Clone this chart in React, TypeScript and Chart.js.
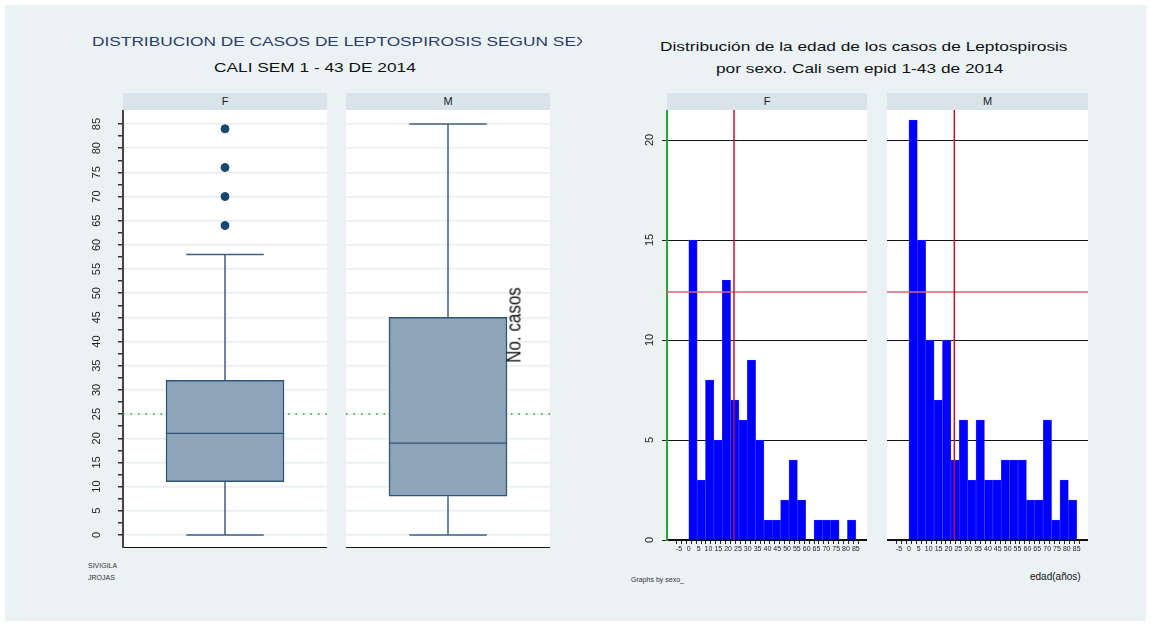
import React, { useEffect, useRef } from "react";
import { Chart, registerables } from "chart.js";
Chart.register(...registerables);

const FONT = "'Liberation Sans', Arial, sans-serif";

// Box plot data (edad by sexo)
const boxF = { min: 0, q1: 11, median: 21, q3: 32, max: 58 };
const boxM = { min: 0, q1: 8, median: 19, q3: 45, max: 85 };
const outliersF = [64, 70, 76, 84];
const outliersM: number[] = [];
const refLineBox = 25;

// Histogram data: 20 bins of width 4.25 from 0 to 85
const binWidth = 4.25;
const binStarts = [0, 4.25, 8.5, 12.75, 17, 21.25, 25.5, 29.75, 34, 38.25, 42.5, 46.75, 51, 55.25, 59.5, 63.75, 68, 72.25, 76.5, 80.75];
const histF = [15, 3, 8, 5, 13, 7, 6, 9, 5, 1, 1, 2, 4, 2, 0, 1, 1, 1, 0, 1];
const histM = [21, 15, 10, 7, 10, 4, 6, 3, 6, 3, 3, 4, 4, 4, 2, 2, 6, 1, 3, 2];
const meanAge = 23;
const meanCount = 12.4;
const histYTicks = [0, 5, 10, 15, 20];

const rotLabels = {
  id: "rotLabels",
  afterDraw(chart: any, _a: any, opts: any) {
    if (!opts || !opts.show) return;
    const s = chart.scales.y;
    const ctx = chart.ctx;
    ctx.save();
    ctx.fillStyle = "#222";
    ctx.font = `${opts.size}px ${FONT}`;
    ctx.textAlign = "center";
    ctx.textBaseline = "middle";
    for (const v of opts.values) {
      const py = s.getPixelForValue(v);
      ctx.save();
      ctx.translate(s.right - opts.offset, py);
      ctx.rotate(-Math.PI / 2);
      ctx.fillText(String(v), 0, 0);
      ctx.restore();
    }
    ctx.restore();
  },
};

function useChart(make: () => any) {
  const ref = useRef<HTMLCanvasElement>(null);
  useEffect(() => {
    const c = new Chart(ref.current!, make());
    return () => c.destroy();
  }, []);
  return ref;
}

const boxTicks = Array.from({ length: 18 }, (_, i) => i * 5);

function BoxPanel({ box, outliers, left, width, axis }: any) {
  const ref = useChart(() => {
    const seg = (pts: any[], color = "#3d5f80", w = 1.5) => ({
      type: "line", data: pts, borderColor: color, borderWidth: w, pointRadius: 0, showLine: true, fill: false, order: 0,
    });
    return {
      type: "bar",
      data: {
        datasets: [
          { type: "bar", data: [{ x: 0.5, y: [box.q1, box.q3] }], backgroundColor: "#8ea5b9", borderColor: "#2d5478", borderWidth: 1.5, borderSkipped: false, barThickness: 118, order: 2 },
          seg([{ x: 0.5, y: box.min }, { x: 0.5, y: box.q1 }]),
          seg([{ x: 0.5, y: box.q3 }, { x: 0.5, y: box.max }]),
          seg([{ x: 0.31, y: box.min }, { x: 0.69, y: box.min }]),
          seg([{ x: 0.31, y: box.max }, { x: 0.69, y: box.max }]),
          seg([{ x: 0.21, y: box.median }, { x: 0.79, y: box.median }], "#2d5478", 1.2),
          { type: "scatter", data: outliers.map((v: number) => ({ x: 0.5, y: v })), backgroundColor: "#1a476f", borderColor: "#1a476f", pointRadius: 4, order: 0 },
          { type: "line", data: [{ x: 0, y: refLineBox }, { x: 1, y: refLineBox }], borderColor: "#1faa1f", borderWidth: 1.5, borderDash: [1.5, 6], pointRadius: 0, order: 3 },
        ],
      },
      options: {
        animation: false, responsive: true, maintainAspectRatio: false,
        layout: { padding: 0, autoPadding: false },
        plugins: { legend: { display: false }, tooltip: { enabled: false }, rotLabels: { show: axis, values: boxTicks, offset: 26, size: 11 } },
        scales: {
          x: { type: "linear", offset: false, min: 0, max: 1, ticks: { display: false }, grid: { display: false }, border: { color: "#111", width: 2 }, afterFit: (s: any) => { s.height = 0; } },
          y: {
            min: -2.7, max: 87.9,
            afterBuildTicks: (s: any) => { s.ticks = Array.from({ length: 35 }, (_, i) => ({ value: i * 2.5 })); },
            ticks: { display: false },
            grid: { color: (c: any) => (c.tick && c.tick.value % 5 === 0 ? "#e6eef1" : "transparent"), lineWidth: 1.5, drawTicks: axis, tickLength: 5, tickColor: "#333" },
            border: { display: axis, color: "#444", width: 2 },
            afterFit: (s: any) => { s.width = axis ? 63 : 0; },
          },
        },
      },
      plugins: [rotLabels],
    };
  });
  return (
    <div style={{ position: "absolute", left, top: 110, width, height: 438 }}>
      <canvas ref={ref} />
    </div>
  );
}

function HistPanel({ values, left, width, axis }: any) {
  const ref = useChart(() => ({
    type: "bar",
    data: {
      datasets: [
        { type: "bar", data: values.map((v: number, i: number) => ({ x: binStarts[i] + binWidth / 2, y: v })), backgroundColor: "#0000ff", borderColor: "#4444ff", borderWidth: 0.6, barThickness: 8.4, order: 2 },
        { type: "line", data: [{ x: meanAge, y: 0 }, { x: meanAge, y: 21.5 }], borderColor: "#c8102e", borderWidth: 1.5, pointRadius: 0, order: 1 },
        { type: "line", data: [{ x: -11.1, y: meanCount }, { x: 90.7, y: meanCount }], borderColor: "#d9637a", borderWidth: 1.5, pointRadius: 0, order: 1 },
      ],
    },
    options: {
      animation: false, responsive: true, maintainAspectRatio: false,
      layout: { padding: 0, autoPadding: false },
      plugins: { legend: { display: false }, tooltip: { enabled: false }, rotLabels: { show: axis, values: histYTicks, offset: 17, size: 11 } },
      scales: {
        x: {
          type: "linear", offset: false, min: -11.1, max: 90.7,
          afterBuildTicks: (s: any) => { s.ticks = Array.from({ length: 37 }, (_, i) => ({ value: -5 + i * 2.5 })); },
          ticks: { autoSkip: false, maxRotation: 0, font: { size: 7, family: FONT }, color: "#222", padding: 1, callback: (v: any) => (Number(v) % 5 === 0 ? String(v) : "") },
          grid: { drawOnChartArea: false, drawTicks: true, tickLength: 4, tickColor: "#222" },
          border: { color: "#111", width: 1.5 },
          afterFit: (s: any) => { s.height = 20; },
        },
        y: {
          min: 0, max: 21.5,
          afterBuildTicks: (s: any) => { s.ticks = histYTicks.map((v) => ({ value: v })); },
          ticks: { display: false },
          grid: { color: "#111", lineWidth: 1, drawTicks: axis, tickLength: 5, tickColor: "#222" },
          border: { display: axis, color: "#33a033", width: 2 },
          afterFit: (s: any) => { s.width = axis ? 47 : 0; },
        },
      },
    },
    plugins: [rotLabels],
  }));
  return (
    <div style={{ position: "absolute", left, top: 110, width, height: 450 }}>
      <canvas ref={ref} />
    </div>
  );
}

const strip = (left: number, top: number, width: number, label: string) => (
  <div style={{ position: "absolute", left, top, width, height: 17, background: "#d8e4ea", textAlign: "center", fontSize: 11, lineHeight: "17px", color: "#222" }}>{label}</div>
);
const txt = (left: number, top: number, s: string, style: any = {}) => (
  <div style={{ position: "absolute", left, top, whiteSpace: "nowrap", ...style }}>{s}</div>
);
const wide = { transform: "scaleX(1.33)", transformOrigin: "left top" };

export default function App() {
  return (
    <div style={{ position: "absolute", left: 0, top: 0, width: 1151, height: 626, background: "#fff", fontFamily: FONT }}>
      <div style={{ position: "absolute", left: 5, top: 5, width: 1141, height: 616, background: "#eaf2f4" }} />
      <div style={{ position: "absolute", left: 92, top: 34, width: 490, overflow: "hidden" }}>
        <div style={{ whiteSpace: "nowrap", fontSize: 13, color: "#2a3d6b", ...wide }}>DISTRIBUCION DE CASOS DE LEPTOSPIROSIS SEGUN SEXO</div>
      </div>
      {txt(214, 60, "CALI SEM 1 - 43 DE 2014", { fontSize: 13, color: "#111", ...wide })}
      {txt(660, 39, "Distribución de la edad de los casos de Leptospirosis", { fontSize: 13, color: "#111", ...wide })}
      {txt(716, 61, "por sexo. Cali sem epid 1-43 de 2014", { fontSize: 13, color: "#111", ...wide })}
      <div style={{ position: "absolute", left: 123, top: 110, width: 204, height: 438, background: "#fff" }} />
      <div style={{ position: "absolute", left: 346, top: 110, width: 204, height: 438, background: "#fff" }} />
      <div style={{ position: "absolute", left: 667, top: 110, width: 200, height: 430, background: "#fff" }} />
      <div style={{ position: "absolute", left: 887, top: 110, width: 201, height: 430, background: "#fff" }} />
      {strip(123, 93, 204, "F")}
      {strip(346, 93, 204, "M")}
      {strip(667, 93, 200, "F")}
      {strip(887, 93, 201, "M")}
      <BoxPanel box={boxF} outliers={outliersF} left={60} width={267} axis={true} />
      <BoxPanel box={boxM} outliers={outliersM} left={346} width={204} axis={false} />
      <HistPanel values={histF} left={620} width={247} axis={true} />
      <HistPanel values={histM} left={887} width={201} axis={false} />
      <div style={{ position: "absolute", left: 514, top: 325, transform: "translate(-50%,-50%) rotate(-90deg) scaleX(0.85)", fontSize: 20, color: "#111", whiteSpace: "nowrap" }}>No. casos</div>
      {txt(88, 562, "SIVIGILA", { fontSize: 7, color: "#333" })}
      {txt(88, 574, "JROJAS", { fontSize: 7, color: "#333" })}
      {txt(631, 576, "Graphs by sexo_", { fontSize: 7, color: "#333" })}
      {txt(1030, 571, "edad(años)", { fontSize: 10, color: "#111" })}
    </div>
  );
}
